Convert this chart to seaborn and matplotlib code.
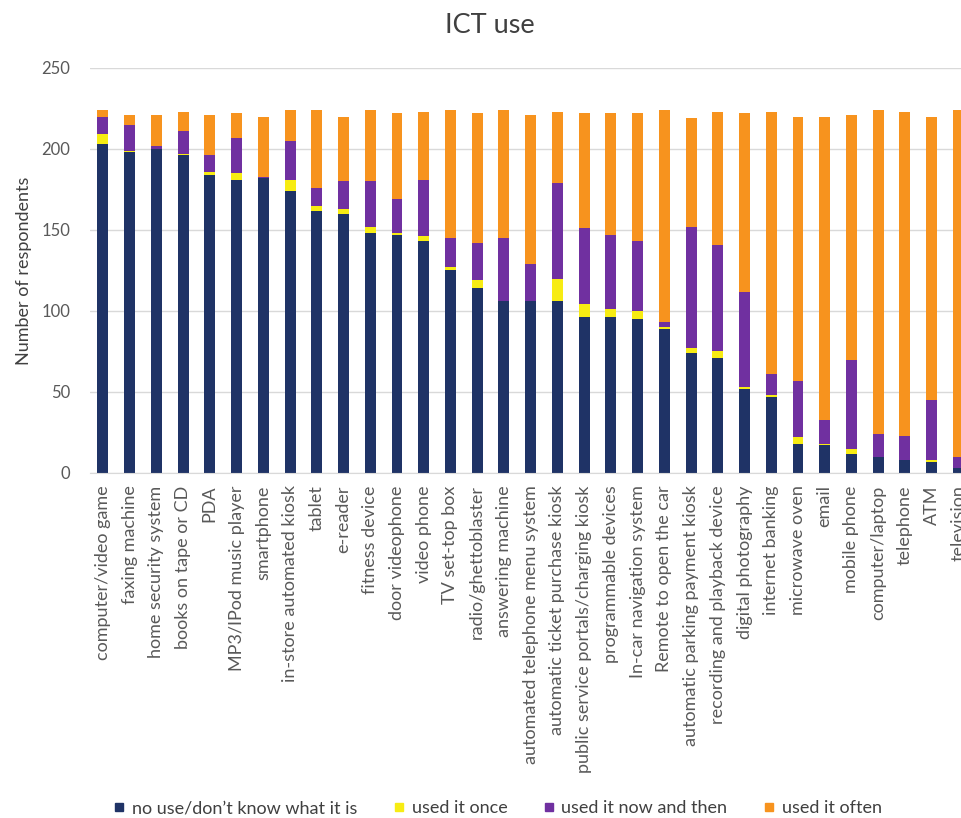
import numpy as np
import pandas as pd
import matplotlib
matplotlib.use("Agg")
import matplotlib.pyplot as plt
from matplotlib.lines import Line2D
import seaborn as sns

# Devices in the order shown on the x axis
devices = [
    "computer/video game", "faxing machine", "home security system", "books on tape or CD",
    "PDA", "MP3/IPod music player", "smartphone", "in-store automated kiosk", "tablet",
    "e-reader", "fitness device", "door videophone", "video phone", "TV set-top box",
    "radio/ghettoblaster", "answering machine", "automated telephone menu system",
    "automatic ticket purchase kiosk", "public service portals/charging kiosk",
    "programmable devices", "In-car navigation system", "Remote to open the car",
    "automatic parking payment kiosk", "recording and playback device", "digital photography",
    "internet banking", "microwave oven", "email", "mobile phone", "computer/laptop",
    "telephone", "ATM", "television",
]

# Respondent counts per answer
no_use = [203, 198, 200, 196, 184, 181, 182, 174, 162, 160, 148, 147, 143, 125, 114, 106, 106,
          106, 96, 96, 95, 89, 74, 71, 52, 47, 18, 17, 12, 10, 8, 7, 3]
used_once = [6, 1, 0, 1, 2, 4, 0, 7, 3, 3, 4, 1, 3, 2, 5, 0, 0,
             14, 8, 5, 5, 1, 3, 4, 1, 1, 4, 1, 3, 0, 0, 1, 0]
now_and_then = [11, 16, 2, 14, 10, 22, 1, 24, 11, 17, 28, 21, 35, 18, 23, 39, 23,
                59, 47, 46, 43, 3, 75, 66, 59, 13, 35, 15, 55, 14, 15, 37, 7]
often = [4, 6, 19, 12, 25, 15, 37, 19, 48, 40, 44, 53, 42, 79, 80, 79, 92,
         44, 71, 75, 79, 131, 67, 82, 110, 162, 163, 187, 151, 200, 200, 175, 214]

series = ["no use/don\u2019t know what it is", "used it once", "used it now and then", "used it often"]
colors = ["#1f3366", "#f7ec13", "#7030a0", "#f7931e"]

df = pd.DataFrame({"device": devices, series[0]: no_use, series[1]: used_once,
                   series[2]: now_and_then, series[3]: often})
cum = df[series].cumsum(axis=1)

sns.set_style("white")
plt.rcParams["font.family"] = ["Lato", "DejaVu Sans"]

fig = plt.figure(figsize=(9.61, 8.18), dpi=100)
# axes runs past the right edge, like the cropped original
ax = fig.add_axes([0.0932, 0.4218, 0.918, 0.4951])

# stacked bars: draw the cumulative totals from the top layer down
for name, col in reversed(list(zip(series, colors))):
    sns.barplot(x=df["device"], y=cum[name], color=col, width=0.41,
                order=devices, ax=ax, saturation=1, linewidth=0)

ax.set_ylim(0, 250)
ax.set_xlim(-0.5, len(devices) - 0.5)
ax.set_yticks([0, 50, 100, 150, 200, 250])
ax.yaxis.grid(True, color="#d9d9d9", linewidth=1)
ax.set_axisbelow(True)
for s in ["top", "right", "left"]:
    ax.spines[s].set_visible(False)
ax.spines["bottom"].set_color("#d9d9d9")
ax.tick_params(axis="y", length=0, labelsize=12, labelcolor="#595959", pad=14)
ax.tick_params(axis="x", length=0, labelsize=13, labelcolor="#595959", pad=9)
ax.set_xticks(range(len(devices)))
ax.set_xticklabels(devices, rotation=90)
ax.set_xlabel("")
ax.set_ylabel("Number of respondents", fontsize=13, color="#404040", labelpad=7)

fig.text(0.51, 0.969, "ICT use", ha="center", va="center", fontsize=19.5, color="#404040")

handles = [Line2D([], [], marker="s", linestyle="", markersize=6, color=c) for c in colors]
fig.legend(handles, series, loc="center", bbox_to_anchor=(0.518, 10 / 818), ncol=4,
           frameon=False, fontsize=13, labelcolor="#404040", handlelength=0.6,
           handletextpad=0.4, columnspacing=2.0)

fig.savefig("out.png", dpi=100)
